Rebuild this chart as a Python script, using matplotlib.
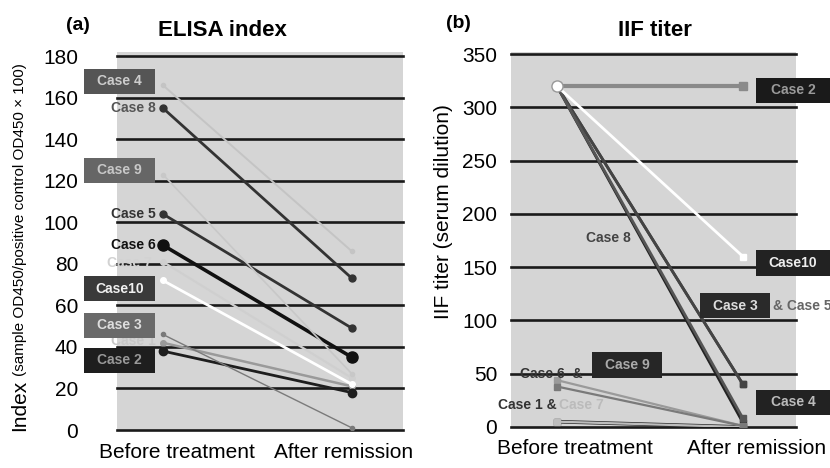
import matplotlib.pyplot as plt
from matplotlib.patches import Rectangle
from matplotlib.transforms import blended_transform_factory
import numpy as np

plt.rcParams['font.family'] = ['Liberation Sans', 'DejaVu Sans']

cases = ['Case 1', 'Case 2', 'Case 3', 'Case 4', 'Case 5',
         'Case 6', 'Case 7', 'Case 8', 'Case 9', 'Case 10']
stages = ['Before treatment', 'After remission']

# (a) ELISA index
elisa_before = [42, 38, 46, 166, 104, 89, 81, 155, 123, 72]
elisa_after = [21, 18, 1, 86, 49, 35, 25, 73, 27, 22]

# (b) IIF titer
iif_before = [5, 320, 320, 320, 320, 44, 5, 320, 38, 320]
iif_after = [0, 320, 40, 4, 40, 1, 0, 8, 1, 160]

# line styles per case: colour, width, marker size
elisa_style = {
    'Case 1': ('#9a9a9a', 1.8, 4), 'Case 2': ('#1e1e1e', 2.0, 6),
    'Case 3': ('#7a7a7a', 1.0, 3), 'Case 4': ('#c4c4c4', 1.4, 3),
    'Case 5': ('#333333', 2.0, 5), 'Case 6': ('#111111', 2.6, 8),
    'Case 7': ('#cfcfcf', 1.6, 4), 'Case 8': ('#333333', 2.0, 5),
    'Case 9': ('#c8c8c8', 1.2, 3), 'Case 10': ('#ffffff', 2.0, 4),
}
iif_style = {
    'Case 1': ('#2a2a2a', 2.6, 5), 'Case 2': ('#8a8a8a', 3.0, 6),
    'Case 3': ('#3a3a3a', 2.0, 4), 'Case 4': ('#222222', 2.0, 4),
    'Case 5': ('#444444', 2.0, 4), 'Case 6': ('#9a9a9a', 1.6, 4),
    'Case 7': ('#bdbdbd', 1.6, 4), 'Case 8': ('#555555', 2.0, 4),
    'Case 9': ('#7a7a7a', 1.6, 4), 'Case 10': ('#ffffff', 2.0, 4),
}

W, H = 830, 468
fig = plt.figure(figsize=(W / 100, H / 100), dpi=100)
ax1 = fig.add_axes([117 / W, (H - 430) / H, 286 / W, 378 / H])
ax2 = fig.add_axes([511 / W, (H - 427) / H, 285 / W, 375 / H])

x = np.arange(len(stages))


def setup(ax, ymax, step, xlim, ticklabel_x, ypad):
    ax.set_facecolor('#d5d5d5')
    for s in ax.spines.values():
        s.set_visible(False)
    ax.set_xlim(*xlim)
    ax.set_ylim(0, ymax)
    for v in np.arange(0, ymax, step):
        ax.axhline(v, color='#1a1a1a', lw=1.9, zorder=1, clip_on=False)
    ax.set_xticks(ticklabel_x)
    ax.set_xticklabels(stages, fontsize=15)
    ax.tick_params(axis='x', length=0, pad=9)
    ax.tick_params(axis='y', length=0, pad=ypad, labelsize=15)


setup(ax1, 182, 20, (-0.243, 1.27), [0.074, 0.958], 28)
ax1.set_yticks(np.arange(0, 181, 20))
setup(ax2, 352, 50, (-0.247, 1.285), [0.097, 1.075], 10)
ax2.set_yticks(np.arange(0, 351, 50))

for i, c in enumerate(cases):
    col, lw, ms = elisa_style[c]
    ax1.plot(x, [elisa_before[i], elisa_after[i]], color=col, lw=lw,
             marker='o', ms=ms, mfc=col, mec=col, zorder=3)
    col, lw, ms = iif_style[c]
    ax2.plot(x, [iif_before[i], iif_after[i]], color=col, lw=lw,
             marker='s', ms=ms, mfc=col, mec=col, zorder=3)
ax2.plot([0], [320], marker='o', ms=8, mfc='white', mec='#999999', zorder=4)


def box(ax, x0, x1, yc, h, text, fc, tc):
    tr = blended_transform_factory(ax.transAxes, ax.transData)
    ax.add_patch(Rectangle((x0, yc - h / 2), x1 - x0, h, transform=tr,
                           facecolor=fc, edgecolor='none', clip_on=False, zorder=5))
    ax.text((x0 + x1) / 2, yc, text, transform=tr, ha='center', va='center',
            fontsize=10, color=tc, fontweight='bold', zorder=6, clip_on=False)


def label(ax, xa, y, text, color, ha='right', weight='bold'):
    tr = blended_transform_factory(ax.transAxes, ax.transData)
    ax.text(xa, y, text, transform=tr, ha=ha, va='center', fontsize=10,
            color=color, fontweight=weight, zorder=4, clip_on=False)


# labels, panel (a)
box(ax1, -0.115, 0.133, 168, 12, 'Case 4', '#555555', '#cccccc')
label(ax1, 0.135, 155, 'Case 8', '#555555')
box(ax1, -0.115, 0.133, 125, 12, 'Case 9', '#666666', '#c8c8c8')
label(ax1, 0.135, 104, 'Case 5', '#333333')
label(ax1, 0.135, 89, 'Case 6', '#111111')
label(ax1, 0.120, 80.5, 'Case 7', '#d2d2d2')
box(ax1, -0.115, 0.133, 68, 12, 'Case10', '#3a3a3a', '#f0f0f0')
label(ax1, 0.135, 43, 'Case 1', '#c8c8c8')
box(ax1, -0.115, 0.133, 50.5, 12, 'Case 3', '#6a6a6a', '#dddddd')
box(ax1, -0.115, 0.133, 33.5, 12, 'Case 2', '#1e1e1e', '#999999')

# labels, panel (b)
box(ax2, 0.86, 1.12, 316, 24, 'Case 2', '#1a1a1a', '#9a9a9a')
label(ax2, 0.34, 177, 'Case 8', '#444444', ha='center')
box(ax2, 0.86, 1.12, 154, 24, 'Case10', '#222222', '#eeeeee')
box(ax2, 0.663, 0.909, 114, 24, 'Case 3', '#2a2a2a', '#dddddd')
label(ax2, 0.919, 114, '& Case 5', '#666666', ha='left')
label(ax2, 0.03, 50, 'Case 6  &', '#333333', ha='left')
box(ax2, 0.284, 0.53, 58, 24, 'Case 9', '#262626', '#aaaaaa')
label(ax2, -0.046, 20.5, 'Case 1 &', '#333333', ha='left')
label(ax2, 0.17, 20.5, 'Case 7', '#bbbbbb', ha='left')
box(ax2, 0.86, 1.12, 23, 24, 'Case 4', '#222222', '#bbbbbb')

# titles and axis labels
fig.text(78 / W, 1 - 26 / H, '(a)', fontsize=14, fontweight='bold', ha='center', va='center')
fig.text(222 / W, 1 - 30 / H, 'ELISA index', fontsize=16, fontweight='bold', ha='center', va='center')
fig.text(458 / W, 1 - 24 / H, '(b)', fontsize=14, fontweight='bold', ha='center', va='center')
fig.text(655 / W, 1 - 30 / H, 'IIF titer', fontsize=16, fontweight='bold', ha='center', va='center')

fig.text(20 / W, 1 - 431 / H, 'Index', fontsize=15, rotation=90, ha='center', va='bottom')
fig.text(20 / W, 1 - 376 / H, '(sample OD450/positive control OD450 \u00d7 100)',
         fontsize=11, rotation=90, ha='center', va='bottom')
fig.text(443 / W, 1 - 212 / H, 'IIF titer (serum dilution)', fontsize=15,
         rotation=90, ha='center', va='center')

fig.savefig('out.png', dpi=100)
